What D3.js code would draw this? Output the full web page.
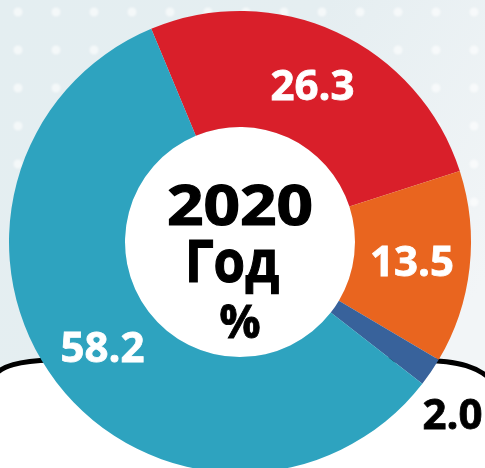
<!DOCTYPE html>
<html>
<head>
<meta charset="utf-8">
<script src="https://cdn.jsdelivr.net/npm/d3@7"></script>
<style>
html,body{margin:0;padding:0;background:#fff;}
svg{display:block;}
</style>
</head>
<body>
<svg id="chart" width="485" height="468"></svg>
<script>
const categories = ["A", "B", "C", "D"];
const values = [26.3, 13.5, 2.0, 58.2];
const labels = ["26.3", "13.5", "2.0", "58.2"];
const colors = ["#d91f2a", "#e9651f", "#38629b", "#2ea3bf"];
const centerTitle = ["2020", "Год", "%"];

const W = 485, H = 468;
const cx = 240, cy = 242, R = 231, r0 = 115;
const svg = d3.select("#chart");

// background
const defs = svg.append("defs");
const g1 = defs.append("linearGradient").attr("id", "bg").attr("x1", "0").attr("y1", "0").attr("x2", "1").attr("y2", "0.6");
g1.append("stop").attr("offset", "0").attr("stop-color", "#e4eef1");
g1.append("stop").attr("offset", "0.5").attr("stop-color", "#e5eef1");
g1.append("stop").attr("offset", "1").attr("stop-color", "#f2f5f7");
svg.append("rect").attr("width", W).attr("height", H).attr("fill", "url(#bg)");
defs.append("filter").attr("id", "blur").append("feGaussianBlur").attr("stdDeviation", 1.2);

// dots grid
const dotX = d3.range(18, W, 38);
const dotY = d3.range(12, 240, 38);
const dots = svg.append("g").attr("filter", "url(#blur)");
dotY.forEach(y => dotX.forEach(x => {
  dots.append("circle").attr("cx", x).attr("cy", y).attr("r", 4.5)
    .attr("fill", "#ffffff").attr("opacity", 0.6);
}));

// white lower panel with black curved border
const edge = "M -6,376 C 2,366 18,361 52,360 L 420,360 C 458,361 480,366 495,384";
svg.append("path").attr("d", edge + " L 495,470 L -6,470 Z").attr("fill", "#ffffff");
svg.append("path").attr("d", edge)
  .attr("fill", "none").attr("stroke", "#000").attr("stroke-width", 5);

// donut
const start = -22.6 * Math.PI / 180;
const pie = d3.pie().sort(null).value(d => d).startAngle(start).endAngle(start + 2 * Math.PI);
const arcs = pie(values);
const arc = d3.arc().innerRadius(r0).outerRadius(R);
const g = svg.append("g").attr("transform", `translate(${cx},${cy})`);

g.append("circle").attr("r", r0).attr("fill", "#ffffff");
g.selectAll("path.slice").data(arcs).enter().append("path")
  .attr("class", "slice")
  .attr("d", arc)
  .attr("fill", (d, i) => colors[i]);

const font = "'Open Sans', 'DejaVu Sans', sans-serif";
const outerLabelArc = d3.arc().innerRadius(262).outerRadius(262);

g.selectAll("text.val").data(arcs).enter().append("text")
  .attr("class", "val")
  .each(function(d, i) {
    const t = d3.select(this);
    if (values[i] < 5) {
      const c = outerLabelArc.centroid(d);
      t.attr("x", c[0] - 34).attr("y", c[1] + 39)
        .attr("text-anchor", "start").attr("fill", "#000").attr("stroke", "#000");
    } else {
      const c = arc.centroid(d);
      t.attr("x", c[0]).attr("y", c[1] + 15)
        .attr("text-anchor", "middle").attr("fill", "#ffffff").attr("stroke", "#ffffff");
    }
  })
  .attr("stroke-width", 0.8)
  .attr("font-family", font)
  .attr("font-weight", 700)
  .attr("font-size", 42)
  .text((d, i) => labels[i]);

// center text
g.append("text").attr("x", 0).attr("y", -17)
  .attr("text-anchor", "middle").attr("font-family", font).attr("font-weight", 700)
  .attr("font-size", 56).attr("textLength", 146).attr("lengthAdjust", "spacingAndGlyphs")
  .attr("stroke", "#000").attr("stroke-width", 1.2)
  .attr("fill", "#000").text(centerTitle[0]);
g.append("text").attr("x", -8).attr("y", 40)
  .attr("text-anchor", "middle").attr("font-family", font).attr("font-weight", 700)
  .attr("font-size", 59).attr("textLength", 94).attr("lengthAdjust", "spacingAndGlyphs")
  .attr("stroke", "#000").attr("stroke-width", 1.2)
  .attr("fill", "#000").text(centerTitle[1]);
g.append("text").attr("x", 0).attr("y", 96)
  .attr("text-anchor", "middle").attr("font-family", font).attr("font-weight", 700)
  .attr("font-size", 46).attr("stroke", "#000").attr("stroke-width", 0.8)
  .attr("fill", "#000").text(centerTitle[2]);
</script>
</body>
</html>
